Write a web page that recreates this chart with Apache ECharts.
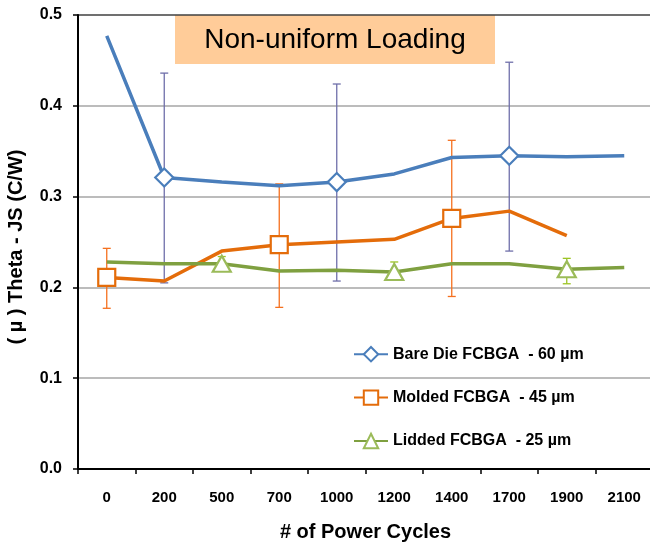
<!DOCTYPE html>
<html>
<head>
<meta charset="utf-8">
<script src="https://cdn.jsdelivr.net/npm/echarts@6/dist/echarts.min.js"></script>
<style>
html,body{margin:0;padding:0;background:#fff;}
#chart{width:650px;height:544px;}
</style>
</head>
<body>
<div id="chart"></div>
<script>
var categories = ['0','200','500','700','1000','1200','1400','1700','1900','2100'];
var yTicks = [0.0, 0.1, 0.2, 0.3, 0.4, 0.5];
var seriesNames = ['Bare Die FCBGA  - 60 µm', 'Molded FCBGA  - 45 µm', 'Lidded FCBGA  - 25 µm'];

var bareDie = [0.477, 0.321, 0.316, 0.312, 0.316, 0.325, 0.343, 0.345, 0.344, 0.345];
var molded  = [0.211, 0.207, 0.240, 0.247, 0.250, 0.253, 0.276, 0.284, 0.257, null];
var lidded  = [0.228, 0.226, 0.226, 0.218, 0.219, 0.217, 0.226, 0.226, 0.220, 0.222];

var bareDieMarkers = [1, 4, 7];
var moldedMarkers  = [0, 3, 6];
var liddedMarkers  = [2, 5, 8];

var bareDieErrLow  = [null, 0.205, null, null, 0.207, null, null, 0.240, null, null];
var bareDieErrHigh = [null, 0.436, null, null, 0.424, null, null, 0.448, null, null];
var moldedErrLow   = [0.177, null, null, 0.178, null, null, 0.190, null, null, null];
var moldedErrHigh  = [0.243, null, null, 0.314, null, null, 0.362, null, null, null];
var liddedErrLow   = [null, null, 0.221, null, null, 0.210, null, null, 0.204, null];
var liddedErrHigh  = [null, null, 0.234, null, null, 0.228, null, null, 0.232, null];

var FONT = '"Liberation Sans", Arial, sans-serif';

function withMarkers(values, markers) {
  return values.map(function (v, i) {
    return markers.indexOf(i) >= 0 ? {value: v} : {value: v, symbol: 'none'};
  });
}
function errData(low, high) {
  var out = [];
  for (var i = 0; i < low.length; i++) {
    if (low[i] != null && high[i] != null) out.push([i, low[i], high[i]]);
  }
  return out;
}
function errSeries(low, high, color) {
  return {
    type: 'custom',
    z: 1,
    silent: true,
    data: errData(low, high),
    renderItem: function (params, api) {
      var x = api.value(0);
      var lo = api.coord([x, api.value(1)]);
      var hi = api.coord([x, api.value(2)]);
      var hw = 4;
      var style = {stroke: color, lineWidth: 1.3};
      return {
        type: 'group',
        children: [
          {type: 'line', shape: {x1: lo[0], y1: lo[1], x2: hi[0], y2: hi[1]}, style: style},
          {type: 'line', shape: {x1: lo[0] - hw, y1: lo[1], x2: lo[0] + hw, y2: lo[1]}, style: style},
          {type: 'line', shape: {x1: hi[0] - hw, y1: hi[1], x2: hi[0] + hw, y2: hi[1]}, style: style}
        ]
      };
    }
  };
}

var chart = echarts.init(document.getElementById('chart'), null, {renderer: 'canvas'});
var option = {
  animation: false,
  backgroundColor: '#ffffff',
  textStyle: {fontFamily: FONT},
  grid: {left: 78, top: 15, width: 575, height: 454, containLabel: false, outerBoundsMode: 'none'},
  graphic: [
    {
      type: 'group', left: 175, top: 15, z: 10,
      children: [
        {type: 'rect', shape: {x: 0, y: 0, width: 320, height: 49}, style: {fill: '#FFCC99'}},
        {type: 'text', x: 160, y: 25, style: {text: 'Non-uniform Loading', font: '28px ' + FONT, fill: '#000', textAlign: 'center', textVerticalAlign: 'middle'}}
      ]
    }
  ],
  legend: {
    orient: 'vertical',
    left: 353, top: 346,
    padding: 0,
    itemWidth: 34, itemHeight: 18, itemGap: 27,
    textStyle: {fontFamily: FONT, fontSize: 16, fontWeight: 'bold', color: '#000'},
    data: seriesNames
  },
  xAxis: {
    type: 'category',
    data: categories,
    boundaryGap: true,
    name: '# of Power Cycles',
    nameLocation: 'middle',
    nameGap: 53,
    nameTextStyle: {fontFamily: FONT, fontSize: 20, fontWeight: 'bold', color: '#000'},
    axisLine: {lineStyle: {color: '#000', width: 2}},
    axisTick: {show: true, alignWithLabel: false, length: 5, lineStyle: {color: '#000', width: 1.5}},
    axisLabel: {margin: 21, fontFamily: FONT, fontSize: 15, fontWeight: 'bold', color: '#000'},
    splitLine: {show: false}
  },
  yAxis: {
    type: 'value',
    min: yTicks[0], max: yTicks[yTicks.length - 1], interval: 0.1,
    name: '( µ ) Theta - JS (C/W)',
    nameLocation: 'middle',
    nameGap: 52,
    nameTextStyle: {fontFamily: FONT, fontSize: 20, fontWeight: 'bold', color: '#000', padding: [0, 10, 0, 0]},
    axisLine: {show: true, lineStyle: {color: '#000', width: 2}},
    axisTick: {show: true, length: 5, lineStyle: {color: '#000', width: 1.5}},
    axisLabel: {margin: 16, fontFamily: FONT, fontSize: 16, fontWeight: 'bold', color: '#000',
      formatter: function (v) { return v.toFixed(1); }},
    splitLine: {show: true, lineStyle: {color: ['#A6A6A6', '#A6A6A6', '#A6A6A6', '#A6A6A6', '#A6A6A6', '#404040'], width: 1.5}}
  },
  series: [
    errSeries(bareDieErrLow, bareDieErrHigh, '#6F6FAA'),
    errSeries(moldedErrLow, moldedErrHigh, '#F5701E'),
    errSeries(liddedErrLow, liddedErrHigh, '#9CC424'),
    {
      name: seriesNames[0], type: 'line', z: 3,
      data: withMarkers(bareDie, bareDieMarkers),
      symbol: 'diamond', symbolSize: 18,
      lineStyle: {color: '#4A7EBB', width: 3.5},
      itemStyle: {color: '#ffffff', borderColor: '#4A7EBB', borderWidth: 2.2},
      color: '#4A7EBB'
    },
    {
      name: seriesNames[1], type: 'line', z: 3,
      data: withMarkers(molded, moldedMarkers),
      symbol: 'rect', symbolSize: 17,
      lineStyle: {color: '#E46C0A', width: 3.5},
      itemStyle: {color: '#ffffff', borderColor: '#E46C0A', borderWidth: 2.2},
      color: '#E46C0A'
    },
    {
      name: seriesNames[2], type: 'line', z: 3,
      data: withMarkers(lidded, liddedMarkers),
      symbol: 'triangle', symbolSize: [18, 16],
      lineStyle: {color: '#7FA040', width: 3.5},
      itemStyle: {color: '#ffffff', borderColor: '#9BBB59', borderWidth: 2.2},
      color: '#7FA040'
    }
  ]
};
chart.setOption(option);
</script>
</body>
</html>
